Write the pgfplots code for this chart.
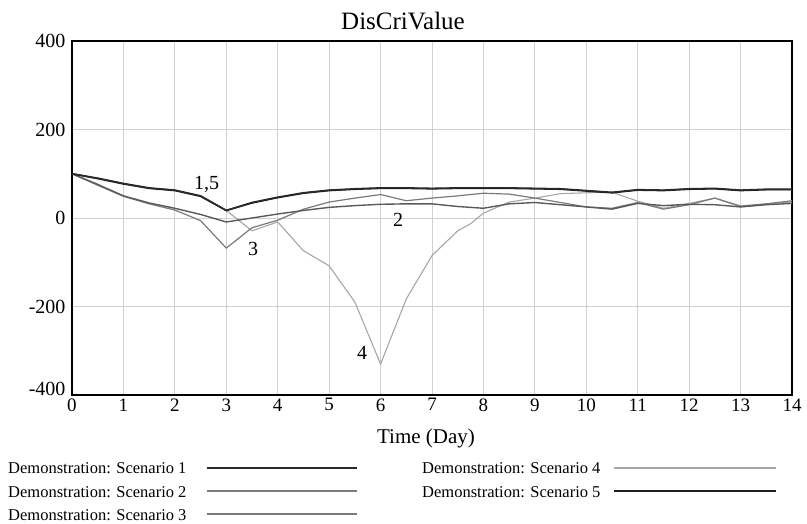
\documentclass[border=0pt]{standalone}
\usepackage{fontspec}
\setmainfont{Liberation Serif}
\usepackage{pgfplots}
\pgfplotsset{compat=1.18}
\definecolor{sOne}{HTML}{2A2A2A}
\definecolor{sTwo}{HTML}{5A5A5A}
\definecolor{sThree}{HTML}{7A7A7A}
\definecolor{sFour}{HTML}{A6A6A6}
\definecolor{sFive}{HTML}{1E1E1E}
\definecolor{gridc}{HTML}{D0D0D0}

\begin{document}
\begin{tikzpicture}
\path[use as bounding box] (-72bp,-129bp) rectangle (735bp,395bp);
\begin{axis}[
  at={(0bp,0bp)}, anchor=south west,
  width=720bp, height=354bp, scale only axis,
  xmin=0, xmax=14, ymin=-400, ymax=400,
  xtick={0,1,...,14}, ytick={-400,-200,0,200,400},
  grid=major, major grid style={color=gridc, line width=0.9bp},
  axis line style={line width=2bp, black},
  tick style={draw=none},
  /pgf/number format/assume math mode=true,
  xticklabel style={font=\fontsize{19bp}{22bp}\selectfont},
  yticklabel style={font=\fontsize{20bp}{24bp}\selectfont, xshift=-3bp},
  yticklabel={\pgfmathparse{\tick<-300}\ifdim\pgfmathresult pt>0.5pt\raisebox{12bp}{\pgfmathprintnumber{\tick}}\else\pgfmathprintnumber{\tick}\fi},
  clip=true,
]
% Scenario 4
\addplot[color=sFour, line width=1.1bp] coordinates {
(0,100) (0.5,90) (1,78) (1.5,68) (2,63) (2.5,50) (3,17) (3.5,-29) (4,-9) (4.5,-74)
(5,-108) (5.5,-190) (6,-330) (6.5,-183) (7,-85) (7.5,-29) (7.75,-13) (8,11) (8.5,36) (9,45)
(9.5,55) (10,57) (10.5,58) (11,38) (11.5,22) (12,33) (12.5,45) (13,25) (13.5,32) (14,36)};
% Scenario 3
\addplot[color=sThree, line width=1.2bp] coordinates {
(0,100) (0.5,74) (1,49) (1.5,32) (2,18) (2.5,-6) (3,-68) (3.5,-22) (4,-5) (4.5,20)
(5,36) (5.5,45) (6,53) (6.5,39) (7,45) (7.5,50) (8,56) (8.5,54) (9,45) (9.5,35)
(10,25) (10.5,22) (11,35) (11.5,20) (12,30) (12.5,45) (13,27) (13.5,32) (14,39)};
% Scenario 2
\addplot[color=sTwo, line width=1.4bp] coordinates {
(0,100) (0.5,76) (1,50) (1.5,34) (2,22) (2.5,8) (3,-9) (3.5,0) (4,9) (4.5,17)
(5,24) (5.5,28) (6,31) (6.5,32) (7,32) (7.5,26) (8,22) (8.5,32) (9,35) (9.5,30)
(10,25) (10.5,20) (11,33) (11.5,28) (12,31) (12.5,30) (13,25) (13.5,30) (14,33)};
% Scenario 5
\addplot[color=sFive, line width=1.6bp] coordinates {
(0,100) (0.5,89) (1,77) (1.5,67) (2,62) (2.5,49) (3,17) (3.5,34) (4,46) (4.5,56)
(5,62) (5.5,65) (6,67) (6.5,67) (7,66) (7.5,67) (8,67) (8.5,67) (9,66) (9.5,65)
(10,61) (10.5,57) (11,63) (11.5,62) (12,65) (12.5,66) (13,62) (13.5,64) (14,64)};
% Scenario 1
\addplot[color=sOne, line width=1.6bp] coordinates {
(0,100) (0.5,90) (1,78) (1.5,68) (2,63) (2.5,50) (3,17) (3.5,35) (4,47) (4.5,57)
(5,63) (5.5,66) (6,68) (6.5,68) (7,67) (7.5,68) (8,68) (8.5,68) (9,67) (9.5,66)
(10,62) (10.5,58) (11,64) (11.5,63) (12,66) (12.5,67) (13,63) (13.5,65) (14,65)};
\node[font=\fontsize{20bp}{24bp}\selectfont] at (axis cs:2.62,75) {1,5};
\node[font=\fontsize{20bp}{24bp}\selectfont] at (axis cs:3.52,-70) {3};
\node[font=\fontsize{20bp}{24bp}\selectfont] at (axis cs:6.34,-5) {2};
\node[font=\fontsize{20bp}{24bp}\selectfont] at (axis cs:5.64,-305) {4};
\end{axis}
\node[anchor=base, font=\fontsize{25bp}{30bp}\selectfont] at (331bp,365bp) {DisCriValue};
\node[anchor=base, font=\fontsize{21bp}{25bp}\selectfont] at (354bp,-48bp) {Time (Day)};
% legend
\begin{scope}[every node/.style={anchor=base west, inner sep=0pt, font=\fontsize{16.5bp}{20bp}\selectfont}]
\node at (-64bp,-78bp) {Demonstration: Scenario 1};
\node at (-64bp,-102bp) {Demonstration: Scenario 2};
\node at (-64bp,-125bp) {Demonstration: Scenario 3};
\node at (350bp,-78bp) {Demonstration: Scenario 4};
\node at (350bp,-102bp) {Demonstration: Scenario 5};
\end{scope}
\draw[sOne, line width=1.8bp] (135bp,-73bp) -- (285bp,-73bp);
\draw[sTwo!80, line width=1.4bp] (135bp,-96bp) -- (285bp,-96bp);
\draw[sThree, line width=1.3bp] (135bp,-119bp) -- (285bp,-119bp);
\draw[sFour, line width=1.2bp] (542bp,-73bp) -- (704bp,-73bp);
\draw[sFive, line width=1.8bp] (542bp,-96bp) -- (704bp,-96bp);
\end{tikzpicture}
\end{document}
